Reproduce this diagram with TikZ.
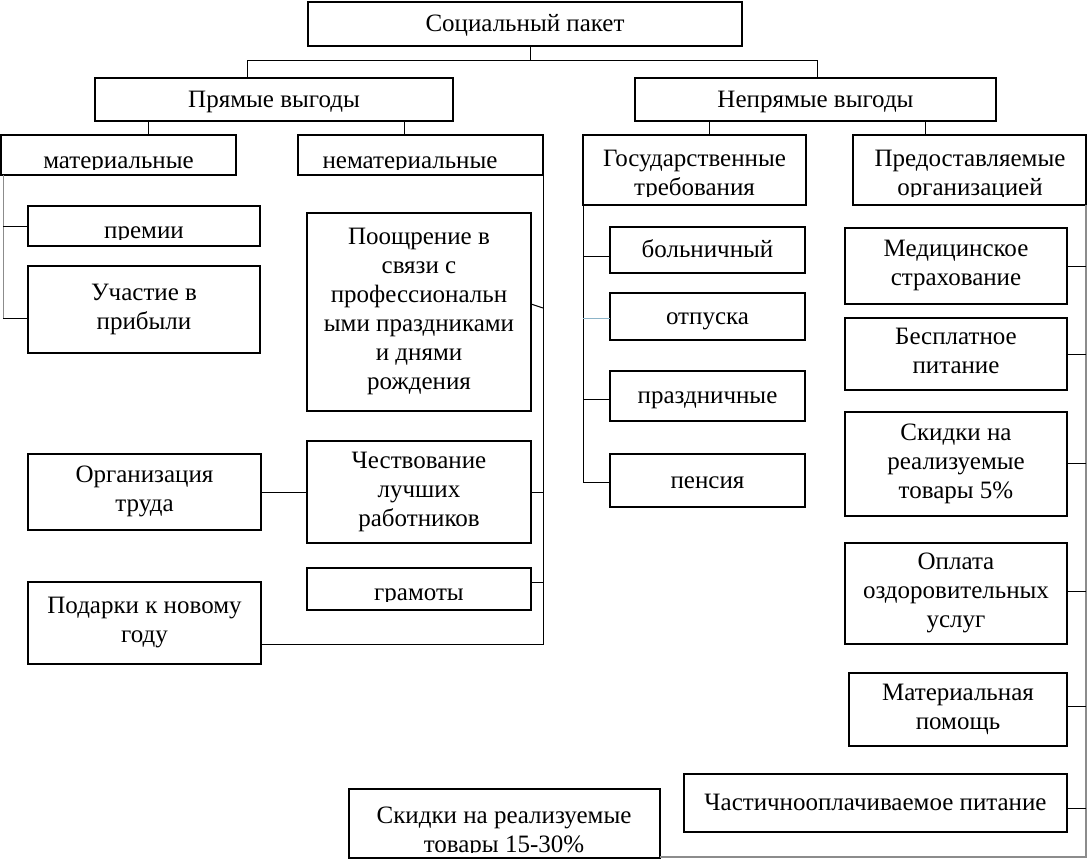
\documentclass[tikz,border=0pt]{standalone}
\usepackage{fontspec}
\setmainfont{Liberation Serif}
\definecolor{lgray}{gray}{0.55}
\definecolor{lblue}{RGB}{140,180,200}
\newcommand\mystrut{\rule[-6pt]{0pt}{27pt}}
\tikzset{
  box/.style={draw, line width=2.1pt, inner sep=0pt, outer sep=0pt, align=center,
    font=\fontsize{25}{29}\selectfont,
    execute at begin node=\mystrut, execute at end node=\mystrut},
  txt/.style={inner sep=0pt, font=\fontsize{25}{29}\selectfont},
  conn/.style={line width=1pt},
  gconn/.style={line width=1.5pt, draw=lgray},
}
\newcommand\mkbox[6]{\node[box, minimum width={#4-#2}, minimum height={#5-#3}] (#1) at ({(#2+#4)/2},{(#3+#5)/2}) {#6};}
\newcommand\mkemptybox[5]{\node[draw, line width=2.1pt, inner sep=0pt, outer sep=0pt, minimum width={#4-#2}, minimum height={#5-#3}] (#1) at ({(#2+#4)/2},{(#3+#5)/2}) {};}
\begin{document}
\begin{tikzpicture}[x=1pt,y=-1pt]
\useasboundingbox (0,0) rectangle (1088,860);
\fill[white] (0,0) rectangle (1088,860);

% level 0,1
\mkbox{top}{308}{2}{742}{46}{Социальный пакет}
\mkbox{pr}{95}{78}{453}{121}{Прямые выгоды}
\mkbox{npr}{635}{78}{996}{121}{Непрямые выгоды}

% level 2 (text clipped at bottom)
\mkemptybox{mat}{1}{135}{236}{175}
\begin{scope}\clip (1,135) rectangle (236,169);
  \node[txt,anchor=base] at (118.5,168) {материальные};\end{scope}
\mkemptybox{nemat}{298}{135}{543}{175}
\begin{scope}\clip (298,135) rectangle (543,169);
  \node[txt,anchor=base] at (410,168) {нематериальные};\end{scope}
\mkemptybox{gos}{583}{135}{806}{205}
\begin{scope}\clip (583,135) rectangle (806,196);
  \node[txt,anchor=base] at (694.5,166) {Государственные};
  \node[txt,anchor=base] at (694.5,195) {требования};\end{scope}
\mkemptybox{pred}{853}{135}{1086}{205}
\begin{scope}\clip (853,135) rectangle (1086,196);
  \node[txt,anchor=base] at (970,166) {Предоставляемые};
  \node[txt,anchor=base] at (970,195) {организацией};\end{scope}

% left column
\mkemptybox{prem}{28}{206}{260}{246}
\begin{scope}\clip (28,206) rectangle (260,239);
  \node[txt,anchor=base] at (144,238) {премии};\end{scope}
\mkbox{uch}{28}{266}{260}{353}{Участие в\\прибыли}
\mkbox{org}{28}{454}{261}{530}{Организация\\труда}
\mkbox{pod}{28}{582}{261}{664}{Подарки к новому\\году}

% middle-left column
\mkbox{poo}{307}{213}{531}{411}{Поощрение в\\связи с\\профессиональн\\ыми праздниками\\и днями\\рождения}
\mkbox{chest}{307}{441}{531}{543}{Чествование\\лучших\\работников}
\mkemptybox{gram}{307}{568}{531}{610}
\begin{scope}\clip (307,568) rectangle (531,601);
  \node[txt,anchor=base] at (419,600) {грамоты};\end{scope}

% state requirements
\mkbox{bol}{610}{227}{805}{273}{больничный}
\mkbox{otp}{610}{293}{805}{340}{отпуска}
\mkbox{praz}{610}{371}{805}{421}{праздничные}
\mkbox{pen}{610}{454}{805}{507}{пенсия}

% provided by organisation
\mkbox{med}{845}{228}{1067}{304}{Медицинское\\страхование}
\mkbox{besp}{845}{318}{1067}{390}{Бесплатное\\питание}
\mkbox{skid}{845}{412}{1067}{516}{Скидки на\\реализуемые\\товары 5\%}
\mkbox{opl}{845}{543}{1067}{644}{Оплата\\оздоровительных\\услуг}
\mkbox{matp}{849}{673}{1067}{746}{Материальная\\помощь}
\mkbox{chast}{684}{774}{1067}{832}{Частичнооплачиваемое питание}
\mkemptybox{skb}{349}{789}{660}{858}
\begin{scope}\clip (349,789) rectangle (660,852);
  \node[txt,anchor=base] at (504,823) {Скидки на реализуемые};
  \node[txt,anchor=base] at (504,852) {товары 15-30\%};\end{scope}

% ---- connectors ----
\coordinate (pL) at (247,60);
\coordinate (pR) at (817,60);
\draw[conn] ([xshift=5pt]top.south) -- ([xshift=5pt]top.south |- pL);
\draw[conn] (pr.north -| pL) -- (pL) -- (pR) -- (npr.north -| pR);

\coordinate (t1) at (148,128);
\coordinate (t2) at (404,128);
\coordinate (t3) at (709,128);
\coordinate (t4) at (925,128);
\draw[conn] (pr.south -| t1) -- (mat.north -| t1);
\draw[conn] (pr.south -| t2) -- (nemat.north -| t2);
\draw[conn] (npr.south -| t3) -- (gos.north -| t3);
\draw[conn] (npr.south -| t4) -- (pred.north -| t4);

% material
\coordinate (mL) at (3,318);
\draw[conn, draw=lgray] (mat.south -| mL) -- (mL);
\draw[conn] (mL) -- (mL -| uch.west);
\draw[conn] (prem.west -| mL) -- (prem.west);

% non-material
\coordinate (nB) at (543,644);
\coordinate (n1) at (543,308);
\draw[conn] (nemat.south east) -- (nB) -- (nB -| pod.east);
\draw[conn] ([yshift=8pt]poo.east) -- (n1);
\draw[conn] (chest.east) -- (chest.east -| nB);
\coordinate (n3) at (543,582);
\draw[conn] (n3) -- (n3 -| gram.east);
\draw[conn] (org.east) -- (org.east -| chest.west);

% state requirements
\coordinate (g1) at (583,256);
\coordinate (g2) at (583,318);
\coordinate (g3) at (583,399);
\coordinate (g4) at (583,482);
\draw[conn] (gos.south west) -- (g4);
\draw[conn] (g1) -- (g1 -| bol.west);
\draw[conn, draw=lblue] (g2) -- (g2 -| otp.west);
\draw[conn] (g3) -- (g3 -| praz.west);
\draw[conn] (g4) -- (g4 -| pen.west);

% provided by organisation
\coordinate (r0) at (1086,857);
\draw[gconn] (pred.south east) -- (r0) -- (r0 -| skb.east);
\coordinate (r1) at (1086,266);
\coordinate (r2) at (1086,354);
\coordinate (r3) at (1086,463);
\coordinate (r4) at (1086,591);
\coordinate (r5) at (1086,706);
\coordinate (r6) at (1086,808);
\draw[conn] (r1) -- (r1 -| med.east);
\draw[conn] (r2) -- (r2 -| besp.east);
\draw[conn] (r3) -- (r3 -| skid.east);
\draw[conn] (r4) -- (r4 -| opl.east);
\draw[conn] (r5) -- (r5 -| matp.east);
\draw[conn] (r6) -- (r6 -| chast.east);
\end{tikzpicture}
\end{document}
